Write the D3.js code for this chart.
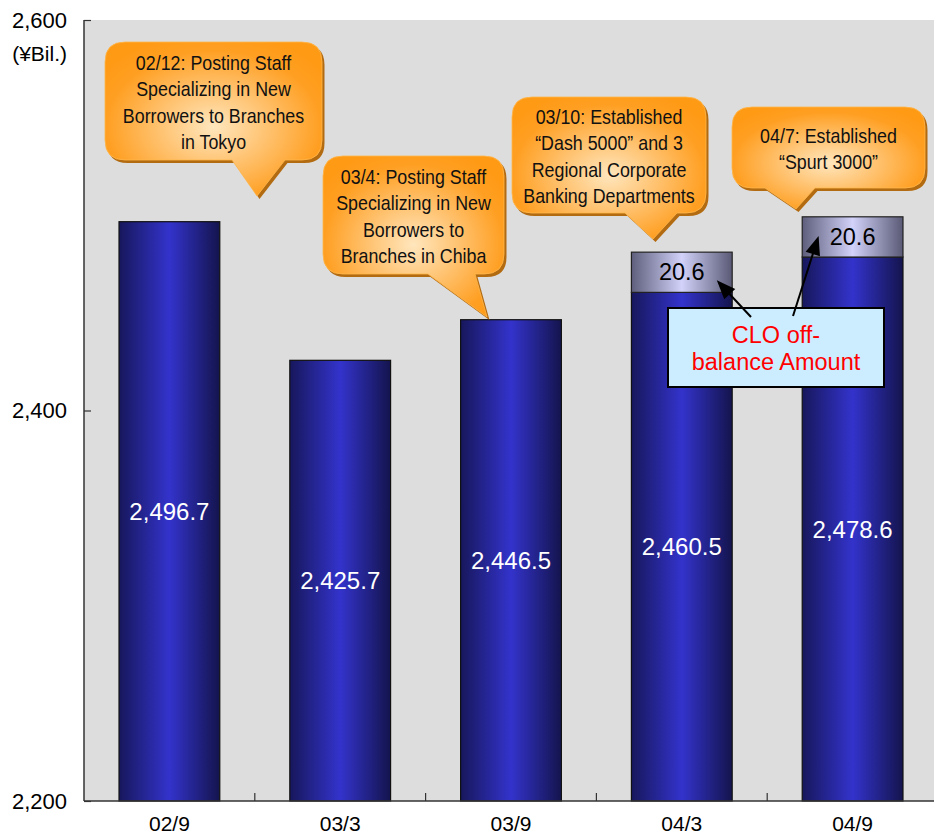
<!DOCTYPE html>
<html>
<head>
<meta charset="utf-8">
<script src="https://cdn.jsdelivr.net/npm/d3@7"></script>
<style>
  html, body { margin: 0; padding: 0; background: #fff; }
  svg { display: block; }
</style>
</head>
<body>
<svg id="chart" width="934" height="836"></svg>
<script>
// Loan balance by half-year period (¥ billion)
const categories = ["02/9", "03/3", "03/9", "04/3", "04/9"];
const loanBalance = [2496.7, 2425.7, 2446.5, 2460.5, 2478.6];
const cloOffBalance = [0, 0, 0, 20.6, 20.6];
const yTicks = [2200, 2400, 2600];
const yUnit = "(¥Bil.)";

// Event call-outs
const calloutTexts = [
  ["02/12: Posting Staff", "Specializing in New", "Borrowers to Branches", "in Tokyo"],
  ["03/4: Posting Staff", "Specializing in New", "Borrowers to", "Branches in Chiba"],
  ["03/10: Established", "\u201CDash 5000\u201D and 3", "Regional Corporate", "Banking Departments"],
  ["04/7: Established", "\u201CSpurt 3000\u201D"]
];
const cloNoteLines = ["CLO off-", "balance Amount"];

// call-out geometry: box [x0,y0,x1,y1], tail base [xa,xb], tail tip [x,y]
const calloutLayout = [
  { box: [105, 42, 322, 160], tail: [232, 285], tip: [257, 196] },
  { box: [323, 156, 504, 274], tail: [428, 475], tip: [487, 317] },
  { box: [512, 97, 706, 213], tail: [625, 677], tip: [653, 239] },
  { box: [732, 107, 925, 188], tail: [765, 815], tip: [796, 209] }
];

const svg = d3.select("#chart");
const plot = { left: 84, right: 938, top: 20, bottom: 801 };

const x = d3.scaleBand().domain(categories).range([plot.left, plot.right]).padding(0);
const y = d3.scaleLinear().domain([2200, 2600]).range([plot.bottom, plot.top]);
const barW = x.bandwidth() * 0.59;
const barX = c => x(c) + (x.bandwidth() - barW) / 2;

const defs = svg.append("defs");
const blueGrad = defs.append("linearGradient").attr("id", "blueBar").attr("x1", "0").attr("x2", "1");
[[0, "#17175c"], [0.5, "#3333cc"], [1, "#14144e"]].forEach(([o, c]) =>
  blueGrad.append("stop").attr("offset", o).attr("stop-color", c));
const greyGrad = defs.append("linearGradient").attr("id", "greyBar").attr("x1", "0").attr("x2", "1");
[[0, "#5e5e7c"], [0.5, "#d2d2fa"], [1, "#5a5a76"]].forEach(([o, c]) =>
  greyGrad.append("stop").attr("offset", o).attr("stop-color", c));
const orangeGrad = defs.append("radialGradient").attr("id", "orangeFill")
  .attr("cx", "50%").attr("cy", "55%").attr("r", "62%");
[[0, "#ffe6bd"], [0.35, "#ffc77a"], [0.8, "#ff9f22"], [1, "#ff9a15"]].forEach(([o, c]) =>
  orangeGrad.append("stop").attr("offset", o).attr("stop-color", c));

// plot background
svg.append("rect")
  .attr("x", plot.left).attr("y", plot.top)
  .attr("width", plot.right - plot.left).attr("height", plot.bottom - plot.top)
  .attr("fill", "#dddddd");

// bars: on-balance part
svg.append("g").selectAll("rect").data(categories).join("rect")
  .attr("x", c => barX(c))
  .attr("y", (c, i) => y(loanBalance[i]))
  .attr("width", barW)
  .attr("height", (c, i) => y(2200) - y(loanBalance[i]))
  .attr("fill", "url(#blueBar)")
  .attr("stroke", "#111").attr("stroke-width", 1.2);

// bars: CLO off-balance part stacked on top
svg.append("g").selectAll("rect").data(categories.filter((c, i) => cloOffBalance[i] > 0)).join("rect")
  .attr("x", c => barX(c))
  .attr("y", c => { const i = categories.indexOf(c); return y(loanBalance[i] + cloOffBalance[i]); })
  .attr("width", barW)
  .attr("height", c => { const i = categories.indexOf(c); return y(loanBalance[i]) - y(loanBalance[i] + cloOffBalance[i]); })
  .attr("fill", "url(#greyBar)")
  .attr("stroke", "#222").attr("stroke-width", 1.2);

// value labels
const fmt = d3.format(",.1f");
svg.append("g").selectAll("text").data(categories).join("text")
  .attr("x", c => x(c) + x.bandwidth() / 2)
  .attr("y", (c, i) => (y(loanBalance[i]) + y(2200)) / 2)
  .attr("text-anchor", "middle").attr("dominant-baseline", "central")
  .attr("font-family", "Liberation Sans, Arial, sans-serif").attr("font-size", 24)
  .attr("fill", "#fff")
  .text((c, i) => fmt(loanBalance[i]));

svg.append("g").selectAll("text").data(categories.filter((c, i) => cloOffBalance[i] > 0)).join("text")
  .attr("x", c => x(c) + x.bandwidth() / 2)
  .attr("y", c => { const i = categories.indexOf(c); return (y(loanBalance[i]) + y(loanBalance[i] + cloOffBalance[i])) / 2; })
  .attr("text-anchor", "middle").attr("dominant-baseline", "central")
  .attr("font-family", "Liberation Sans, Arial, sans-serif").attr("font-size", 23.5)
  .attr("fill", "#000")
  .text(c => fmt(cloOffBalance[categories.indexOf(c)]));

// axes
const axisColor = "#333";
svg.append("line").attr("x1", plot.left).attr("x2", plot.left)
  .attr("y1", plot.top).attr("y2", plot.bottom).attr("stroke", axisColor).attr("stroke-width", 1.5);
svg.append("line").attr("x1", plot.left).attr("x2", plot.right)
  .attr("y1", plot.bottom).attr("y2", plot.bottom).attr("stroke", axisColor).attr("stroke-width", 1.5);

const yAxis = svg.append("g").attr("transform", `translate(${plot.left},0)`)
  .call(d3.axisRight(y).tickValues(yTicks).tickSize(7).tickFormat(""));
yAxis.select(".domain").remove();
yAxis.selectAll(".tick line").attr("stroke", axisColor).attr("stroke-width", 1.2);

svg.append("g").selectAll("text").data(yTicks).join("text")
  .attr("x", 67).attr("y", d => y(d))
  .attr("text-anchor", "end").attr("dominant-baseline", "central")
  .attr("font-family", "Liberation Sans, Arial, sans-serif").attr("font-size", 22)
  .attr("fill", "#000")
  .text(d => d3.format(",")(d));

svg.append("text").attr("x", 67).attr("y", 53)
  .attr("text-anchor", "end").attr("dominant-baseline", "central")
  .attr("font-family", "Liberation Sans, Arial, sans-serif").attr("font-size", 21)
  .text(yUnit);

// category ticks at band boundaries, pointing up into the plot
svg.append("g").selectAll("line").data(categories.slice(1)).join("line")
  .attr("x1", c => x(c)).attr("x2", c => x(c))
  .attr("y1", plot.bottom).attr("y2", plot.bottom - 8)
  .attr("stroke", axisColor).attr("stroke-width", 1.2);

svg.append("g").selectAll("text").data(categories).join("text")
  .attr("x", c => x(c) + x.bandwidth() / 2).attr("y", 831)
  .attr("text-anchor", "middle")
  .attr("font-family", "Liberation Sans, Arial, sans-serif").attr("font-size", 21)
  .text(c => c);

// speech-bubble call-outs
function bubblePath(L) {
  const [x0, y0, x1, y1] = L.box, r = 20;
  const [ta, tb] = L.tail, [tx, ty] = L.tip;
  return `M${x0 + r},${y0} H${x1 - r} Q${x1},${y0} ${x1},${y0 + r} V${y1 - r} Q${x1},${y1} ${x1 - r},${y1}` +
    ` H${tb} L${tx},${ty} L${ta},${y1} H${x0 + r} Q${x0},${y1} ${x0},${y1 - r} V${y0 + r} Q${x0},${y0} ${x0 + r},${y0} Z`;
}
const bubbles = svg.append("g").selectAll("g").data(calloutLayout).join("g");
bubbles.append("path").attr("d", bubblePath)
  .attr("transform", "translate(2.5,3)").attr("fill", "#b36b12");
bubbles.append("path").attr("d", bubblePath)
  .attr("fill", "url(#orangeFill)").attr("stroke", "#ffb84d").attr("stroke-width", 0.8);
bubbles.each(function (L, k) {
  const lines = calloutTexts[k];
  const lh = 26.5;
  const cx = (L.box[0] + L.box[2]) / 2;
  const cy = (L.box[1] + L.box[3]) / 2 + 1;
  // condensed lettering: horizontally squeezed sans
  d3.select(this).append("g").selectAll("text").data(lines).join("text")
    .attr("transform", (d, j) => `translate(${cx},${cy + (j - (lines.length - 1) / 2) * lh}) scale(0.85,1)`)
    .attr("text-anchor", "middle").attr("dominant-baseline", "central")
    .attr("font-family", "Liberation Sans, Arial, sans-serif")
    .attr("font-size", 21).attr("fill", "#111")
    .text(d => d);
});

// CLO note box with arrows pointing at the off-balance segments
const noteBox = { x0: 668, y0: 308, x1: 884, y1: 387 };
svg.append("rect")
  .attr("x", noteBox.x0).attr("y", noteBox.y0)
  .attr("width", noteBox.x1 - noteBox.x0).attr("height", noteBox.y1 - noteBox.y0)
  .attr("fill", "#ccedff").attr("stroke", "#000").attr("stroke-width", 2);
svg.append("g").selectAll("text").data(cloNoteLines).join("text")
  .attr("x", (noteBox.x0 + noteBox.x1) / 2)
  .attr("y", (d, j) => 335 + j * 27)
  .attr("text-anchor", "middle").attr("dominant-baseline", "central")
  .attr("font-family", "Liberation Sans, Arial, sans-serif").attr("font-size", 23.5)
  .attr("fill", "#ff0000")
  .text(d => d);

const i3 = categories.indexOf("04/3"), i4 = categories.indexOf("04/9");
const arrows = [
  { from: [751, 317], to: [x("04/3") + x.bandwidth() / 2 + 35, (y(loanBalance[i3]) + y(loanBalance[i3] + cloOffBalance[i3])) / 2 + 8] },
  { from: [793, 316], to: [x("04/9") + x.bandwidth() / 2 - 34, (y(loanBalance[i4]) + y(loanBalance[i4] + cloOffBalance[i4])) / 2 - 1] }
];
const headLen = 19, headHalf = 7.5;
const arrowG = svg.append("g").selectAll("g").data(arrows).join("g");
arrowG.append("line")
  .attr("x1", d => d.from[0]).attr("y1", d => d.from[1])
  .attr("x2", d => { const a = Math.atan2(d.to[1] - d.from[1], d.to[0] - d.from[0]); return d.to[0] - Math.cos(a) * (headLen - 2); })
  .attr("y2", d => { const a = Math.atan2(d.to[1] - d.from[1], d.to[0] - d.from[0]); return d.to[1] - Math.sin(a) * (headLen - 2); })
  .attr("stroke", "#000").attr("stroke-width", 2);
arrowG.append("path")
  .attr("d", d => {
    const a = Math.atan2(d.to[1] - d.from[1], d.to[0] - d.from[0]);
    const bx = d.to[0] - Math.cos(a) * headLen, by = d.to[1] - Math.sin(a) * headLen;
    const px = -Math.sin(a) * headHalf, py = Math.cos(a) * headHalf;
    return `M${d.to[0]},${d.to[1]} L${bx + px},${by + py} L${bx - px},${by - py} Z`;
  })
  .attr("fill", "#000");
</script>
</body>
</html>
